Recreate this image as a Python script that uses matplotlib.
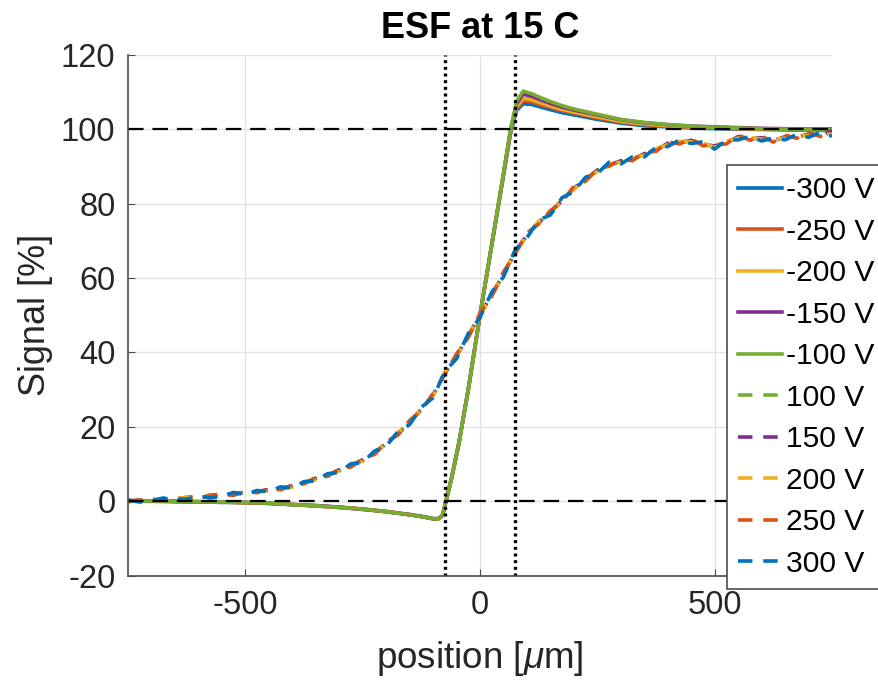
import numpy as np
import matplotlib.pyplot as plt

plt.rcParams['font.family'] = ['Liberation Sans', 'DejaVu Sans']
plt.rcParams['mathtext.fontset'] = 'custom'
plt.rcParams['mathtext.rm'] = 'Liberation Sans'
plt.rcParams['mathtext.it'] = 'Liberation Sans:italic'
plt.rcParams['axes.unicode_minus'] = False

# matlab default colour order
blue, orange, yellow, purple, green = '#0072BD', '#D95319', '#EDB120', '#7E2F8E', '#77AC30'

# negative bias (solid lines)
x_neg = [-750, -700, -650, -600, -550, -500, -450, -400, -350, -300, -250, -200, -150,
         -120, -100, -90, -80, -72, -60, -45, -25, 0, 25, 50, 65, 78, 92, 110, 130, 150,
         175, 200, 250, 300, 350, 400, 450, 500, 550, 600, 650, 700, 750]

neg_300 = [0.1, 0.0, -0.1, -0.1, -0.3, -0.3, -0.6, -0.8, -1.3, -1.5, -2.2, -2.7, -3.6,
           -4.1, -4.6, -4.7, -3.7, 0.4, 6.8, 15.8, 30.2, 50.2, 68.8, 87.5, 98.8, 105.0, 106.8,
           106.6, 105.9, 105.2, 104.4, 103.8, 102.6, 101.6, 100.9, 100.6, 100.3, 100.1, 100.0,
           99.9, 99.8, 99.7, 99.6]
neg_250 = [0.0, 0.1, 0.0, -0.2, -0.2, -0.4, -0.5, -0.9, -1.2, -1.7, -2.1, -2.8, -3.5,
           -4.2, -4.7, -4.8, -3.8, 0.3, 6.6, 15.6, 30.1, 50.1, 68.9, 87.8, 99.3, 105.5, 107.6,
           107.3, 106.5, 105.8, 105.0, 104.3, 103.0, 101.9, 101.2, 100.8, 100.5, 100.3, 100.1,
           100.0, 99.9, 99.8, 99.7]
neg_200 = [0.0, 0.0, 0.1, -0.1, -0.2, -0.3, -0.5, -0.8, -1.2, -1.6, -2.0, -2.7, -3.6,
           -4.2, -4.6, -4.8, -3.8, 0.2, 6.5, 15.5, 30.0, 50.0, 69.0, 88.0, 99.6, 106.0, 108.3,
           107.9, 107.0, 106.2, 105.3, 104.6, 103.3, 102.1, 101.4, 100.9, 100.6, 100.4, 100.2,
           100.1, 100.0, 99.9, 99.9]
neg_150 = [0.1, 0.1, 0.0, -0.1, -0.2, -0.3, -0.5, -0.9, -1.1, -1.6, -2.1, -2.8, -3.6,
           -4.2, -4.7, -4.8, -3.9, 0.2, 6.5, 15.5, 30.0, 50.0, 69.0, 88.0, 99.8, 106.8, 109.4,
           108.8, 107.8, 106.9, 105.9, 105.1, 103.8, 102.5, 101.7, 101.2, 100.8, 100.6, 100.4,
           100.2, 100.1, 100.0, 100.0]
neg_100 = [0.0, 0.1, 0.0, -0.1, -0.2, -0.3, -0.5, -0.9, -1.2, -1.6, -2.1, -2.8, -3.6,
           -4.2, -4.7, -4.8, -3.8, 0.2, 6.5, 15.5, 30.0, 50.0, 69.0, 88.0, 100.0, 107.5, 110.2,
           109.5, 108.4, 107.4, 106.3, 105.4, 104.0, 102.6, 101.8, 101.2, 100.8, 100.5, 100.3,
           100.1, 100.0, 99.9, 99.8]

# positive bias (dashed lines)
x_pos = list(range(-750, 751, 25))

pos_100 = [0.0, 0.2, 0.4, 0.6, 0.7, 0.7, 1.1, 1.4, 1.5, 2.1, 2.2, 2.7, 3.1, 3.5, 3.9, 4.9,
           6.1, 7.1, 8.2, 9.7, 10.9, 13.1, 15.4, 18.3, 21.1, 24.9, 28.4, 34.6, 38.9, 44.6,
           50.1, 55.6, 60.9, 67.1, 71.4, 75.1, 77.6, 81.1, 83.9, 86.6, 88.9, 90.4, 91.2, 92.1,
           93.1, 94.6, 95.9, 96.6, 96.7, 96.1, 95.2, 96.6, 97.7, 97.6, 97.4, 97.1, 97.7, 98.1,
           98.4, 98.6, 98.7]
pos_150 = [0.1, 0.3, 0.2, 0.7, 0.5, 1.1, 1.2, 1.1, 1.8, 1.9, 2.5, 2.5, 3.2, 3.3, 4.2, 4.8,
           6.2, 6.9, 8.5, 9.4, 11.2, 12.8, 15.7, 18.0, 21.4, 24.6, 28.7, 34.3, 39.2, 44.3,
           50.2, 55.3, 61.2, 66.8, 71.7, 74.8, 77.7, 80.8, 84.2, 86.3, 89.0, 90.3, 91.5, 91.8,
           93.4, 94.3, 96.2, 96.3, 97.0, 95.8, 95.5, 96.3, 98.0, 97.3, 97.7, 96.8, 98.0, 97.8,
           98.7, 98.3, 99.6]
pos_200 = [0.3, 0.0, 0.6, 0.4, 0.8, 1.0, 0.8, 1.5, 1.4, 2.2, 2.1, 2.8, 2.8, 3.6, 3.8, 5.2,
           5.8, 7.2, 8.1, 9.9, 10.8, 13.2, 15.3, 18.5, 21.0, 25.0, 28.3, 34.7, 38.8, 44.7,
           49.8, 55.7, 60.8, 67.2, 71.3, 75.2, 77.3, 81.2, 83.8, 86.7, 88.6, 90.7, 91.1, 92.2,
           93.0, 94.7, 95.8, 96.7, 96.6, 96.2, 95.1, 96.7, 97.6, 97.7, 97.3, 97.2, 97.6, 98.2,
           98.3, 98.7, 98.6]
pos_250 = [-0.1, 0.4, 0.5, 0.2, 0.9, 0.5, 0.7, 1.7, 1.9, 1.6, 2.7, 2.3, 3.4, 3.1, 4.4, 4.7,
           6.4, 6.7, 8.7, 9.2, 11.5, 12.6, 16.0, 17.8, 21.7, 24.4, 29.0, 34.1, 39.6, 44.0,
           50.5, 55.1, 61.6, 66.5, 72.1, 74.5, 78.1, 80.5, 84.6, 86.0, 89.4, 90.0, 91.9, 91.5,
           93.8, 94.0, 96.6, 96.0, 97.4, 95.5, 95.9, 96.0, 98.4, 97.0, 98.1, 96.5, 98.4, 97.5,
           99.1, 98.0, 99.4]
pos_300 = [0.4, -0.2, 0.1, 0.9, 0.3, 0.6, 1.4, 0.9, 1.3, 2.4, 1.8, 2.9, 2.6, 3.9, 3.6, 5.3,
           5.5, 7.4, 7.8, 10.1, 10.4, 13.5, 14.8, 18.7, 20.6, 25.3, 27.8, 34.9, 38.3, 45.1,
           49.4, 56.2, 60.3, 67.6, 70.8, 75.6, 76.9, 81.6, 83.2, 87.1, 88.1, 91.1, 90.6, 92.6,
           92.5, 95.1, 95.3, 97.1, 96.1, 96.6, 94.6, 97.1, 97.1, 98.1, 96.8, 97.6, 97.1, 98.6,
           97.8, 99.1, 98.1]

edges = [-75, 75]

fig = plt.figure(figsize=(8.79, 6.83), dpi=100)
ax = fig.add_axes([0.1456, 0.157, 0.801, 0.763])

lw = 2.6
ax.plot(x_neg, neg_300, color=blue, lw=lw, label='-300 V')
ax.plot(x_neg, neg_250, color=orange, lw=lw, label='-250 V')
ax.plot(x_neg, neg_200, color=yellow, lw=lw, label='-200 V')
ax.plot(x_neg, neg_150, color=purple, lw=lw, label='-150 V')
ax.plot(x_neg, neg_100, color=green, lw=lw, label='-100 V')
dash = (0, (4, 3))
ax.plot(x_pos, pos_100, color=green, lw=lw, ls=dash, label='100 V')
ax.plot(x_pos, pos_150, color=purple, lw=lw, ls=dash, label='150 V')
ax.plot(x_pos, pos_200, color=yellow, lw=lw, ls=dash, label='200 V')
ax.plot(x_pos, pos_250, color=orange, lw=lw, ls=dash, label='250 V')
ax.plot(x_pos, pos_300, color=blue, lw=lw, ls=dash, label='300 V')

# reference lines
for y in [0, 100]:
    ax.axhline(y, color='black', lw=1.6, ls=(0, (7, 4)))
for x in edges:
    ax.axvline(x, color='black', lw=2.4, ls=(0, (0.9, 1.1)))

ax.set_xlim(-750, 750)
ax.set_ylim(-20, 120)
ax.set_xticks([-500, 0, 500])
ax.set_yticks(range(-20, 121, 20))
ax.grid(True, color='#e3e3e3', lw=1)
ax.set_axisbelow(True)
for s in ['top', 'right']:
    ax.spines[s].set_visible(False)
for s in ['left', 'bottom']:
    ax.spines[s].set_color('#4d4d4d')
    ax.spines[s].set_linewidth(1.2)
ax.tick_params(direction='in', length=5, color='#4d4d4d', labelsize=23.5,
               labelcolor='#262626')
ax.tick_params(axis='x', pad=10)
ax.tick_params(axis='y', pad=9)

ax.set_title('ESF at 15 C', fontsize=26, fontweight='bold', pad=12)
ax.set_xlabel(r'position [$\mu$m]', fontsize=26.5, color='#262626', labelpad=13)
ax.set_ylabel('Signal [%]', fontsize=26, color='#262626', labelpad=6)

handles, labels = ax.get_legend_handles_labels()
leg = fig.legend(handles, labels, loc='upper left', bbox_to_anchor=(727 / 879, 1 - 165 / 683),
                 fontsize=21.6, handlelength=1.45, handletextpad=0.15, labelspacing=0.45,
                 borderpad=0.38, borderaxespad=0, fancybox=False, framealpha=1,
                 edgecolor='#4d4d4d')
leg.get_frame().set_linewidth(1.2)

fig.savefig('out.png', dpi=100)
